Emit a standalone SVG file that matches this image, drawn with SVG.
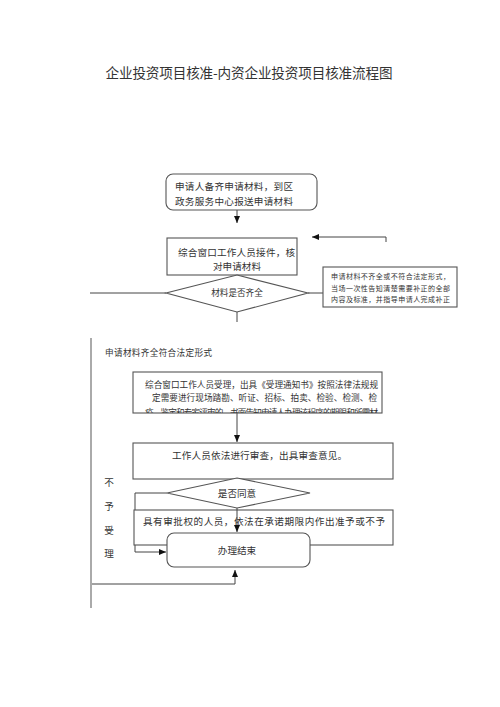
<svg xmlns="http://www.w3.org/2000/svg" width="500" height="707" viewBox="0 0 500 707">
<style>
text{font-family:"Noto Sans CJK SC","Liberation Serif",serif;fill:#333;}
.box{fill:#fff;stroke:#555;stroke-width:1.1;}
.ln{fill:none;stroke:#444;stroke-width:1;}
.gr{fill:none;stroke:#aaa;stroke-width:2;}
.t10{font-size:9.6px;}
.t9{font-size:8.6px;}
.t7{font-size:7px;}
.c{text-anchor:middle;}
</style>
<defs>
<marker id="ah" markerWidth="8" markerHeight="8" refX="7" refY="4" orient="auto" markerUnits="userSpaceOnUse">
<path d="M0,1 L7,4 L0,7 Z" fill="#111"/>
</marker>
<clipPath id="clip3"><rect x="133" y="372" width="250" height="41"/></clipPath>
</defs>
<rect width="500" height="707" fill="#fff"/>
<text x="249" y="78" class="c" style="font-size:13.6px" textLength="287" lengthAdjust="spacing">企业投资项目核准-内资企业投资项目核准流程图</text>

<g id="connectors">
<line class="ln" x1="237" y1="210" x2="237" y2="223" marker-end="url(#ah)"/>
<polyline class="ln" points="386,242 386,237 312,237" marker-end="url(#ah)"/>
<line class="ln" x1="90" y1="293" x2="166" y2="293"/>
<polyline class="ln" points="308,293 386,293 386,281" marker-end="url(#ah)"/>
<line class="ln" x1="237" y1="312" x2="237" y2="322"/>
<line class="gr" x1="91" y1="338" x2="91" y2="608"/>
<line class="ln" x1="237" y1="413" x2="237" y2="442" marker-end="url(#ah)"/>
<line class="ln" x1="237" y1="463" x2="237" y2="477" marker-end="url(#ah)"/>
<polyline class="ln" points="167,493 135,493 135,552 166,552" marker-end="url(#ah)"/>
<polyline class="ln" points="92,584 235,584 235,570" marker-end="url(#ah)"/>
</g>

<g id="n1">
<rect class="box" x="166" y="174" width="151" height="36" rx="7"/>
<text x="175" y="190" class="t10" textLength="118" lengthAdjust="spacing">申请人备齐申请材料，到区</text>
<text x="175" y="205" class="t10" textLength="118" lengthAdjust="spacing">政务服务中心报送申请材料</text>
</g>

<g id="n2">
<rect class="box" x="167" y="238" width="130" height="37"/>
<text x="178" y="256" class="t10" textLength="117" lengthAdjust="spacing">综合窗口工作人员接件，核</text>
<text x="237" y="270" class="t10 c">对申请材料</text>
</g>

<g id="d1">
<polygon class="box" points="237,275 308,293 237,312 166,293"/>
<text x="237" y="296" class="t9 c">材料是否齐全</text>
</g>

<g id="n3">
<rect class="box" x="323" y="267" width="134" height="40"/>
<text x="331" y="279" class="t7" textLength="119" lengthAdjust="spacing">申请材料不齐全或不符合法定形式，</text>
<text x="331" y="291" class="t7" textLength="119" lengthAdjust="spacing">当场一次性告知清楚需要补正的全部</text>
<text x="331" y="302" class="t7" textLength="119" lengthAdjust="spacing">内容及标准，并指导申请人完成补正</text>
</g>

<text x="105" y="356" class="t9" textLength="107" lengthAdjust="spacing">申请材料齐全符合法定形式</text>

<g id="n4">
<rect class="box" x="133" y="372" width="249" height="41"/>
<text x="145" y="388" class="t9" textLength="233" lengthAdjust="spacing">综合窗口工作人员受理，出具《受理通知书》按照法律法规规</text>
<text x="152" y="401" class="t9" textLength="225" lengthAdjust="spacing">定需要进行现场踏勘、听证、招标、拍卖、检验、检测、检</text>
<text x="145" y="416" class="t9" clip-path="url(#clip3)" textLength="233" lengthAdjust="spacing">疫、鉴定和专家评审的，书面告知申请人办理该程序的期限和所需材</text>
</g>

<g id="n5">
<rect class="box" x="133" y="443" width="260" height="36"/>
<text x="172" y="459" class="t10" textLength="175" lengthAdjust="spacing">工作人员依法进行审查，出具审查意见。</text>
</g>

<g id="d2">
<polygon class="box" points="237,478 310,493 237,508 167,493"/>
<text x="237" y="497" class="t10 c">是否同意</text>
</g>

<g id="n6">
<rect class="box" x="134" y="510" width="259" height="35"/>
<text x="143" y="525" class="t10" textLength="242" lengthAdjust="spacing">具有审批权的人员，依法在承诺期限内作出准予或不予</text>
</g>

<g id="n7">
<rect class="box" x="167" y="533" width="143" height="34" rx="7"/>
<text x="237" y="554" class="t10 c">办理结束</text>
</g>

<line class="ln" x1="237" y1="508" x2="237" y2="532" marker-end="url(#ah)"/>

<g id="label-buyu">
<text x="109" y="486" class="t10 c">不</text>
<text x="109" y="510" class="t10 c">予</text>
<text x="109" y="534" class="t10 c">受</text>
<text x="109" y="557" class="t10 c">理</text>
</g>
</svg>
